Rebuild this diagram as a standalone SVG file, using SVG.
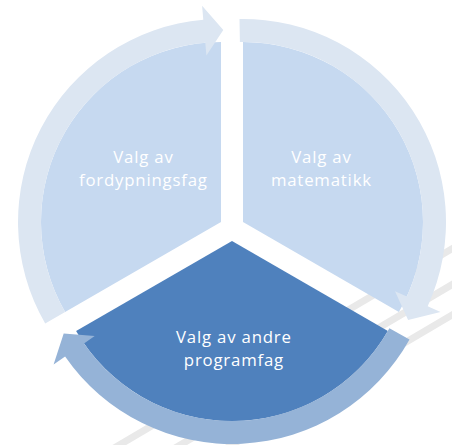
<svg xmlns="http://www.w3.org/2000/svg" width="452" height="445" viewBox="0 0 452 445">
  <style>
    .stripe { stroke: #e9e9e9; stroke-width: 7; fill: none; }
    .slice-light { fill: #c6d9f0; }
    .slice-dark { fill: #4f81bd; }
    .arrow-light { fill: #dce6f2; }
    .arrow-mid { fill: #95b3d7; }
    .label { font-family: "Open Sans", "Noto Sans", "Liberation Sans", sans-serif; font-size: 16.8px; letter-spacing: 0.8px; fill: #ffffff; text-anchor: middle; }
  </style>
  <rect width="452" height="445" fill="#ffffff"/>
  <g id="background-stripes">
    <line class="stripe" x1="100" y1="456.4" x2="470" y2="238.1"/>
    <line class="stripe" x1="150" y1="462.8" x2="470" y2="274"/>
    <line class="stripe" x1="200" y1="463.7" x2="470" y2="304.4"/>
  </g>
  <g id="node-fordypningsfag">
    <path class="slice-light" d="M221,222 L65.1,312 A180,180 0 0 1 221,42 Z"/>
    <text class="label" x="143.4" y="163">Valg av</text>
    <text class="label" x="143.4" y="186">fordypningsfag</text>
  </g>
  <g id="node-matematikk">
    <path class="slice-light" d="M243,222 L243,42 A180,180 0 0 1 398.9,312 Z"/>
    <text class="label" x="321.4" y="163">Valg av</text>
    <text class="label" x="321.4" y="186">matematikk</text>
  </g>
  <g id="node-programfag">
    <path class="slice-dark" d="M232,241 L387.9,331 A180,180 0 0 1 76.1,331 Z"/>
    <text class="label" x="233.9" y="343">Valg av andre</text>
    <text class="label" x="233.9" y="366">programfag</text>
  </g>
  <g id="connectors">
    <path class="arrow-light" d="M45.2,323.5 A203,203 0 0 1 203.3,19.8 L202.1,5.8 L223.3,30 L206.4,55.6 L205.3,42.7 A180,180 0 0 0 65.1,312 Z"/>
    <path class="arrow-light" d="M239.5,19 A203,203 0 0 1 427.7,306.2 L440.5,312 L408.1,320 L395,291.3 L406.8,296.6 A180,180 0 0 0 239.9,42 Z"/>
    <path class="arrow-mid" d="M409.5,339.4 A203,203 0 0 1 65.1,356.6 L53.6,364.5 L63.7,333.5 L94.7,336.1 L84,343.5 A180,180 0 0 0 389.4,328.3 Z"/>
  </g>
</svg>
